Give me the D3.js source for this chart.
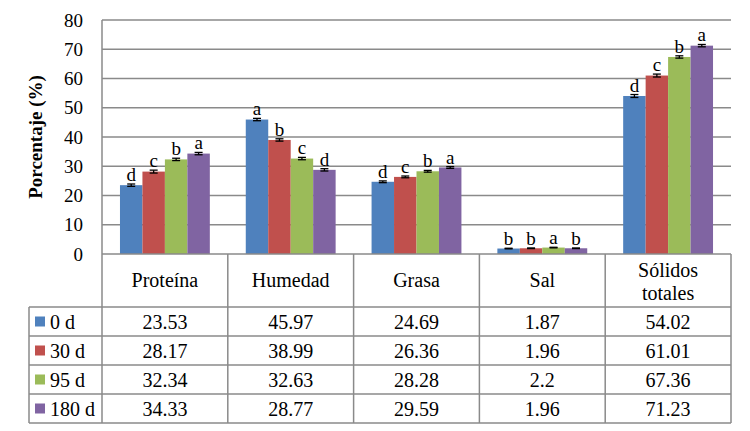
<!DOCTYPE html>
<html lang="es">
  <head>
    <meta charset="utf-8">
    <title>Porcentaje por tiempo de maduracion</title>
    <script src="https://d3js.org/d3.v7.js"></script>
  </head>

  <body style="margin: 0; background: #fff;">
    <svg></svg>

  <script>

// data

  const categories = ["Proteína", "Humedad", "Grasa", "Sal", "Sólidos totales"];
  const series = ["0 d", "30 d", "95 d", "180 d"];
  const colors = ["#4F81BD", "#C0504D", "#9BBB59", "#8064A2"];

  const v0 = [23.53, 45.97, 24.69, 1.87, 54.02];
  const v30 = [28.17, 38.99, 26.36, 1.96, 61.01];
  const v95 = [32.34, 32.63, 28.28, 2.2, 67.36];
  const v180 = [34.33, 28.77, 29.59, 1.96, 71.23];

  // error bar half-heights (estimated)
  const e0 = [0.4, 0.4, 0.3, 0.1, 0.5];
  const e30 = [0.5, 0.4, 0.3, 0.1, 0.5];
  const e95 = [0.4, 0.4, 0.3, 0.1, 0.4];
  const e180 = [0.4, 0.4, 0.3, 0.1, 0.4];

  // significance letters
  const l0 = ["d", "a", "d", "b", "d"];
  const l30 = ["c", "b", "c", "b", "c"];
  const l95 = ["b", "c", "b", "a", "b"];
  const l180 = ["a", "d", "a", "b", "a"];

  const yTicks = [0, 10, 20, 30, 40, 50, 60, 70, 80];

  const values = [v0, v30, v95, v180];
  const errors = [e0, e30, e95, e180];
  const letters = [l0, l30, l95, l180];

  const w = 750;
  const h = 431;
  const plot = {left: 102, right: 731, top: 20, bottom: 254};
  const legendLeft = 29;
  const headerBottom = 307;
  const rowH = 29;
  const gridColor = "#8a8a8a";
  const serif = "Liberation Serif";
  const fs = 19;
  const tfs = 20;

  const svg = d3.select("svg")
      .attr("width", w)
      .attr("height", h);

  const xScale = d3.scaleBand()
      .domain(categories)
      .range([plot.left, plot.right]);

  const xSub = d3.scaleBand()
      .domain(series)
      .range([0, xScale.bandwidth()])
      .paddingOuter(0.8);

  const yScale = d3.scaleLinear()
      .domain([0, 80])
      .range([plot.bottom, plot.top]);

// gridlines

  svg.append("g")
      .selectAll("line")
      .data(yTicks.filter(d => d > 0))
      .enter().append("line")
      .attr("x1", plot.left)
      .attr("x2", plot.right)
      .attr("y1", d => yScale(d))
      .attr("y2", d => yScale(d))
      .attr("stroke", gridColor)
      .attr("stroke-width", 1.5);

// y axis

  const yAxis = d3.axisLeft(yScale)
      .tickValues(yTicks)
      .tickSize(0)
      .tickPadding(19);

  const yg = svg.append("g")
      .attr("transform", `translate(${plot.left}, 0)`)
      .call(yAxis);
  yg.select(".domain").remove();
  yg.selectAll("text")
      .attr("font-family", serif)
      .attr("font-size", fs)
      .attr("fill", "#000");

  svg.append("text")
      .attr("transform", `translate(42, ${(plot.top + plot.bottom) / 2}) rotate(-90)`)
      .attr("text-anchor", "middle")
      .attr("font-family", serif)
      .attr("font-size", fs)
      .attr("font-weight", "bold")
      .text("Porcentaje (%)");

// bars, error bars and letters

  const rows = series.map((s, i) => categories.map((c, j) => ({
      s: s, c: c, i: i, v: values[i][j], e: errors[i][j], l: letters[i][j], color: colors[i]
  })));

  const groups = svg.append("g")
      .selectAll("g")
      .data(rows)
      .enter().append("g");

  groups.selectAll("rect")
      .data(d => d)
      .enter().append("rect")
      .attr("x", d => xScale(d.c) + xSub(d.s))
      .attr("y", d => yScale(d.v))
      .attr("width", xSub.bandwidth())
      .attr("height", d => plot.bottom - yScale(d.v))
      .attr("fill", d => d.color);

  const eb = groups.selectAll("g.err")
      .data(d => d)
      .enter().append("g")
      .attr("class", "err")
      .attr("stroke", "#000")
      .attr("stroke-width", 1.3);

  const cx = d => xScale(d.c) + xSub(d.s) + xSub.bandwidth() / 2;

  eb.append("line")
      .attr("x1", cx).attr("x2", cx)
      .attr("y1", d => yScale(d.v + d.e))
      .attr("y2", d => yScale(d.v - d.e));
  eb.append("line")
      .attr("x1", d => cx(d) - 4).attr("x2", d => cx(d) + 4)
      .attr("y1", d => yScale(d.v + d.e))
      .attr("y2", d => yScale(d.v + d.e));
  eb.append("line")
      .attr("x1", d => cx(d) - 4).attr("x2", d => cx(d) + 4)
      .attr("y1", d => yScale(d.v - d.e))
      .attr("y2", d => yScale(d.v - d.e));

  groups.selectAll("text.letter")
      .data(d => d)
      .enter().append("text")
      .attr("class", "letter")
      .attr("x", cx)
      .attr("y", d => yScale(d.v + d.e) - 3)
      .attr("text-anchor", "middle")
      .attr("font-family", serif)
      .attr("font-size", fs)
      .text(d => d.l);

// data table

  const table = svg.append("g")
      .attr("stroke", gridColor)
      .attr("stroke-width", 1.5);

  const tableBottom = headerBottom + rowH * series.length;

  // axis line / table top
  table.append("line")
      .attr("x1", plot.left).attr("x2", plot.right)
      .attr("y1", plot.bottom).attr("y2", plot.bottom);

  // left axis line continues down the table
  table.append("line")
      .attr("x1", plot.left).attr("x2", plot.left)
      .attr("y1", plot.top).attr("y2", tableBottom);

  // column separators
  table.selectAll("line.col")
      .data(categories)
      .enter().append("line")
      .attr("class", "col")
      .attr("x1", d => xScale(d) + xScale.bandwidth())
      .attr("x2", d => xScale(d) + xScale.bandwidth())
      .attr("y1", plot.bottom)
      .attr("y2", tableBottom);

  // legend column left edge
  table.append("line")
      .attr("x1", legendLeft).attr("x2", legendLeft)
      .attr("y1", headerBottom).attr("y2", tableBottom);

  // row lines
  table.selectAll("line.row")
      .data(d3.range(series.length + 1))
      .enter().append("line")
      .attr("class", "row")
      .attr("x1", legendLeft).attr("x2", plot.right)
      .attr("y1", i => headerBottom + i * rowH)
      .attr("y2", i => headerBottom + i * rowH);

  // header labels
  const header = svg.append("g")
      .selectAll("text")
      .data(categories)
      .enter().append("text")
      .attr("x", d => xScale(d) + xScale.bandwidth() / 2)
      .attr("y", (plot.bottom + headerBottom) / 2 + 6.5)
      .attr("text-anchor", "middle")
      .attr("font-family", serif)
      .attr("font-size", tfs);

  header.each(function(d) {
    const parts = d === "Sólidos totales" ? ["Sólidos", "totales"] : [d];
    const t = d3.select(this);
    if (parts.length > 1) t.attr("y", (plot.bottom + headerBottom) / 2 - 4);
    parts.forEach((p, k) => {
      t.append("tspan")
          .attr("x", xScale(d) + xScale.bandwidth() / 2)
          .attr("dy", k === 0 ? 0 : 23)
          .text(p);
    });
  });

  // legend keys and row labels
  const legendRows = svg.append("g")
      .selectAll("g")
      .data(series)
      .enter().append("g")
      .attr("transform", (d, i) => `translate(0, ${headerBottom + i * rowH})`);

  legendRows.append("rect")
      .attr("x", 35)
      .attr("y", rowH / 2 - 5)
      .attr("width", 10)
      .attr("height", 10)
      .attr("fill", (d, i) => colors[i]);

  legendRows.append("text")
      .attr("x", 50)
      .attr("y", rowH / 2 + 7)
      .attr("font-family", serif)
      .attr("font-size", tfs)
      .text(d => d);

  // values
  groups.selectAll("text.val")
      .data(d => d)
      .enter().append("text")
      .attr("class", "val")
      .attr("x", d => xScale(d.c) + xScale.bandwidth() / 2)
      .attr("y", d => headerBottom + d.i * rowH + rowH / 2 + 7)
      .attr("text-anchor", "middle")
      .attr("font-family", serif)
      .attr("font-size", tfs)
      .text(d => d.v);

    </script>

  </body>

</html>
